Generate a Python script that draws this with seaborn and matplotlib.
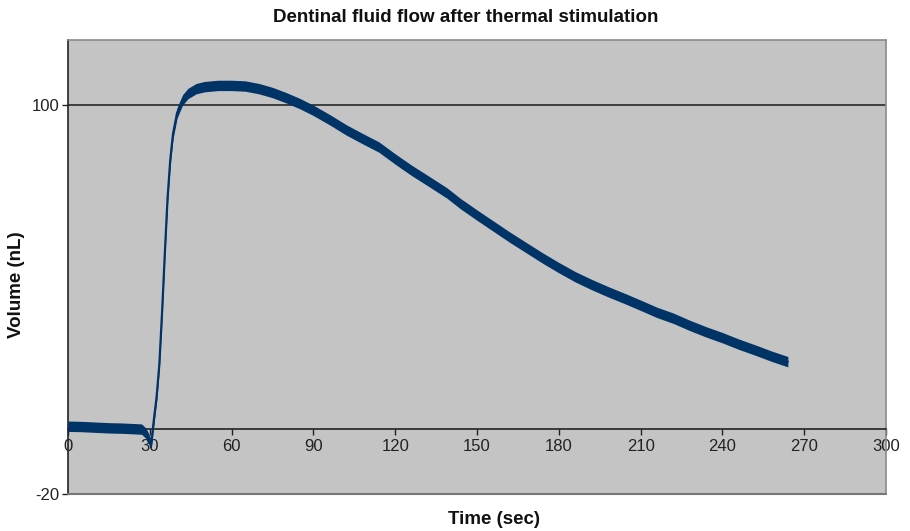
import matplotlib
matplotlib.use("Agg")
import matplotlib.pyplot as plt
import seaborn as sns
import pandas as pd
import numpy as np

# Data
time_sec = [0, 5, 10, 15, 20, 25, 27, 28.5, 29.5, 30.5, 31.5, 32.5, 33.5, 34.5,
            35.5, 36.5, 37.5, 38.5, 40, 42, 44, 47, 50, 55, 60, 65, 70, 75, 80,
            85, 90, 96, 102, 108, 114, 120, 126, 132, 139, 144, 150, 156, 162,
            168, 174, 180, 186, 192, 198, 205, 210, 216, 222, 228, 234, 240,
            246, 252, 258, 264]
volume_nl = [0.9, 0.8, 0.6, 0.4, 0.3, 0.1, 0.0, -1.2, -2.8, -4.8, 3.0, 10.0, 20.0,
             36.0, 54.0, 71.0, 83.0, 91.0, 97.5, 101.5, 103.5, 105.0, 105.6, 106.0,
             106.0, 105.8, 105.0, 103.8, 102.2, 100.4, 98.3, 95.4, 92.3, 89.6,
             87.0, 83.3, 79.8, 76.6, 72.8, 69.5, 66.0, 62.6, 59.2, 56.0, 52.8,
             49.8, 47.0, 44.6, 42.4, 40.0, 38.2, 36.0, 34.2, 32.0, 30.0, 28.2,
             26.2, 24.4, 22.5, 20.8]
x_ticks = [0, 30, 60, 90, 120, 150, 180, 210, 240, 270, 300]
y_ticks = [-20, 100]

title = "Dentinal fluid flow after thermal stimulation"
x_label = "Time (sec)"
y_label = "Volume (nL)"

sns.set_theme(style="white")
plt.rcParams['font.family'] = ['Liberation Sans', 'DejaVu Sans']

df = pd.DataFrame({"t": time_sec, "v": volume_nl})

fig = plt.figure(figsize=(9.10, 5.31), dpi=100)
ax = fig.add_axes([68 / 910, 1 - 494 / 531, (886 - 68) / 910, (494 - 40) / 531])
ax.set_facecolor('#c4c4c4')

line_color = '#003366'
v = np.array(volume_nl)
ax.fill_between(time_sec, v - 1.6, v + 1.6, color=line_color, lw=0, zorder=3)
sns.lineplot(data=df, x="t", y="v", ax=ax, color=line_color, lw=1.6, zorder=4)

ax.set_xlim(0, 300)
ax.set_ylim(-20, 120)
ax.set_xticks(x_ticks)
ax.set_yticks(y_ticks)
ax.set_xticklabels([str(t) for t in x_ticks])
ax.set_yticklabels([str(t) for t in y_ticks])

# gridline at 100
ax.axhline(100, color='#333333', lw=1.3, zorder=2)

# spines
ax.spines['bottom'].set_position(('data', 0))
ax.spines['bottom'].set_color('#222222')
ax.spines['bottom'].set_linewidth(1.2)
ax.spines['left'].set_color('#222222')
ax.spines['left'].set_linewidth(1.2)
ax.spines['top'].set_color('#8a8a8a')
ax.spines['right'].set_color('#8a8a8a')
ax.spines['top'].set_linewidth(1.2)
ax.spines['right'].set_linewidth(1.2)
# frame bottom at -20
ax.axhline(-20, color='#777777', lw=1.5, zorder=5, clip_on=False)

ax.tick_params(axis='x', direction='out', length=4, width=1, color='#222222',
               labelsize=12, labelcolor='#222222', pad=3, bottom=True)
ax.tick_params(axis='y', direction='out', length=4, width=1, color='#222222',
               labelsize=12, labelcolor='#222222', pad=2, left=True)

ax.set_xlabel(x_label, fontsize=13.5, fontweight='bold', color='#111111')
ax.set_ylabel(y_label, fontsize=13.5, fontweight='bold', color='#111111')
ax.xaxis.label.set_va('center')
ax.yaxis.label.set_va('center')
ax.xaxis.set_label_coords((494 - 68) / 818, (494 - 519) / 454)
ax.yaxis.set_label_coords((17 - 68) / 818, (494 - 285) / 454)

fig.text(466 / 910, 1 - 17 / 531, title, ha='center', va='center',
         fontsize=13.5, fontweight='bold', color='#111111')

fig.savefig("out.png", dpi=100)
